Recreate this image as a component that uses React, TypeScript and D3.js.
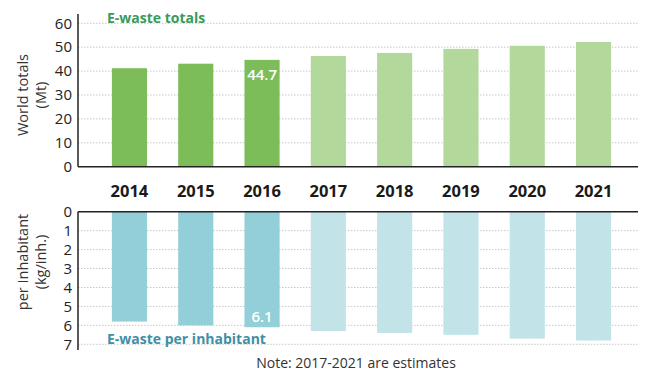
import React from "react";
import * as d3 from "d3";

const years = ["2014", "2015", "2016", "2017", "2018", "2019", "2020", "2021"];
const totals = [41.2, 43.1, 44.7, 46.3, 47.6, 49.3, 50.6, 52.2];
const perInhabitant = [5.8, 6.0, 6.1, 6.3, 6.4, 6.5, 6.7, 6.8];
const estimated = [false, false, false, true, true, true, true, true];
const topTicks = [0, 10, 20, 30, 40, 50, 60];
const bottomTicks = [0, 1, 2, 3, 4, 5, 6, 7];

const W = 650;
const H = 390;
const FONT = "'Open Sans', sans-serif";

const axisX = 78;
const rightX = 638;

export default function App() {
  const x = d3
    .scaleBand<string>()
    .domain(years)
    .range([96.3, 626.7])
    .paddingInner(0.47)
    .paddingOuter(0.235);

  const yTop = d3.scaleLinear().domain([0, 60]).range([166.7, 23.3]);
  const yBot = d3.scaleLinear().domain([0, 7]).range([211.7, 344.3]);

  const green = "#7dbd59";
  const greenLight = "#b3d89b";
  const teal = "#93cfd8";
  const tealLight = "#c2e4e9";

  return (
    <svg
      width={W}
      height={H}
      style={{ position: "absolute", left: 0, top: 0, background: "#fff" }}
      fontFamily={FONT}
    >
      {/* top grid */}
      {topTicks.slice(1).map((t) => (
        <line
          key={"tg" + t}
          x1={axisX}
          x2={rightX}
          y1={yTop(t)}
          y2={yTop(t)}
          stroke="#c8c8c8"
          strokeWidth={1}
          strokeDasharray="1.5,1.5"
        />
      ))}
      {/* bottom grid */}
      {bottomTicks.slice(1).map((t) => (
        <line
          key={"bg" + t}
          x1={axisX}
          x2={rightX}
          y1={yBot(t)}
          y2={yBot(t)}
          stroke="#c8c8c8"
          strokeWidth={1}
          strokeDasharray="1.5,1.5"
        />
      ))}

      {/* top bars */}
      {years.map((yr, i) => (
        <rect
          key={"tb" + yr}
          x={x(yr)}
          y={yTop(totals[i])}
          width={x.bandwidth()}
          height={yTop(0) - yTop(totals[i])}
          fill={estimated[i] ? greenLight : green}
        />
      ))}
      {/* bottom bars */}
      {years.map((yr, i) => (
        <rect
          key={"bb" + yr}
          x={x(yr)}
          y={yBot(0)}
          width={x.bandwidth()}
          height={yBot(perInhabitant[i]) - yBot(0)}
          fill={estimated[i] ? tealLight : teal}
        />
      ))}

      {/* value labels */}
      <text
        x={(x("2016") as number) + x.bandwidth() / 2}
        y={yTop(totals[2]) + 20}
        textAnchor="middle"
        fill="#fff"
        fontSize={15}
        fontWeight={600}
      >
        {totals[2]}
      </text>
      <text
        x={(x("2016") as number) + x.bandwidth() / 2}
        y={yBot(perInhabitant[2]) - 5}
        textAnchor="middle"
        fill="#fff"
        fontSize={15}
        fontWeight={600}
      >
        {perInhabitant[2]}
      </text>

      {/* axes */}
      <line x1={axisX} x2={axisX} y1={14} y2={yTop(0)} stroke="#222" strokeWidth={1.5} />
      <line x1={axisX} x2={rightX} y1={yTop(0)} y2={yTop(0)} stroke="#222" strokeWidth={1.5} />
      <line x1={axisX} x2={axisX} y1={yBot(0)} y2={350} stroke="#222" strokeWidth={1.5} />
      <line x1={axisX} x2={rightX} y1={yBot(0)} y2={yBot(0)} stroke="#222" strokeWidth={1.5} />

      {topTicks.map((t) => (
        <text
          key={"tt" + t}
          x={72}
          y={yTop(t)}
          dy="0.35em"
          textAnchor="end"
          fontSize={15}
          fill="#222"
        >
          {t}
        </text>
      ))}
      {bottomTicks.map((t) => (
        <text
          key={"bt" + t}
          x={72}
          y={yBot(t)}
          dy="0.35em"
          textAnchor="end"
          fontSize={15}
          fill="#222"
        >
          {t}
        </text>
      ))}

      {/* year labels */}
      {years.map((yr) => (
        <text
          key={"yr" + yr}
          x={(x(yr) as number) + x.bandwidth() / 2}
          y={197}
          textAnchor="middle"
          fontSize={16.5}
          fontWeight={700}
          fill="#1a1a1a"
        >
          {yr}
        </text>
      ))}

      {/* axis titles */}
      <text transform="translate(28,95) rotate(-90)" textAnchor="middle" fontSize={14.5} fill="#333">
        World totals
      </text>
      <text transform="translate(46,95) rotate(-90)" textAnchor="middle" fontSize={14.5} fill="#333">
        (Mt)
      </text>
      <text transform="translate(28,262) rotate(-90)" textAnchor="middle" fontSize={14.5} fill="#333">
        per Inhabitant
      </text>
      <text transform="translate(46,262) rotate(-90)" textAnchor="middle" fontSize={14.5} fill="#333">
        (kg/inh.)
      </text>

      {/* series titles */}
      <text x={107} y={23} fontSize={14} fontWeight={700} fill="#3a9a5a">
        E-waste totals
      </text>
      <text x={107} y={344} fontSize={14} fontWeight={700} fill="#3f8fa6">
        E-waste per inhabitant
      </text>

      <text x={356} y={368} textAnchor="middle" fontSize={14} fill="#333">
        Note: 2017-2021 are estimates
      </text>
    </svg>
  );
}
